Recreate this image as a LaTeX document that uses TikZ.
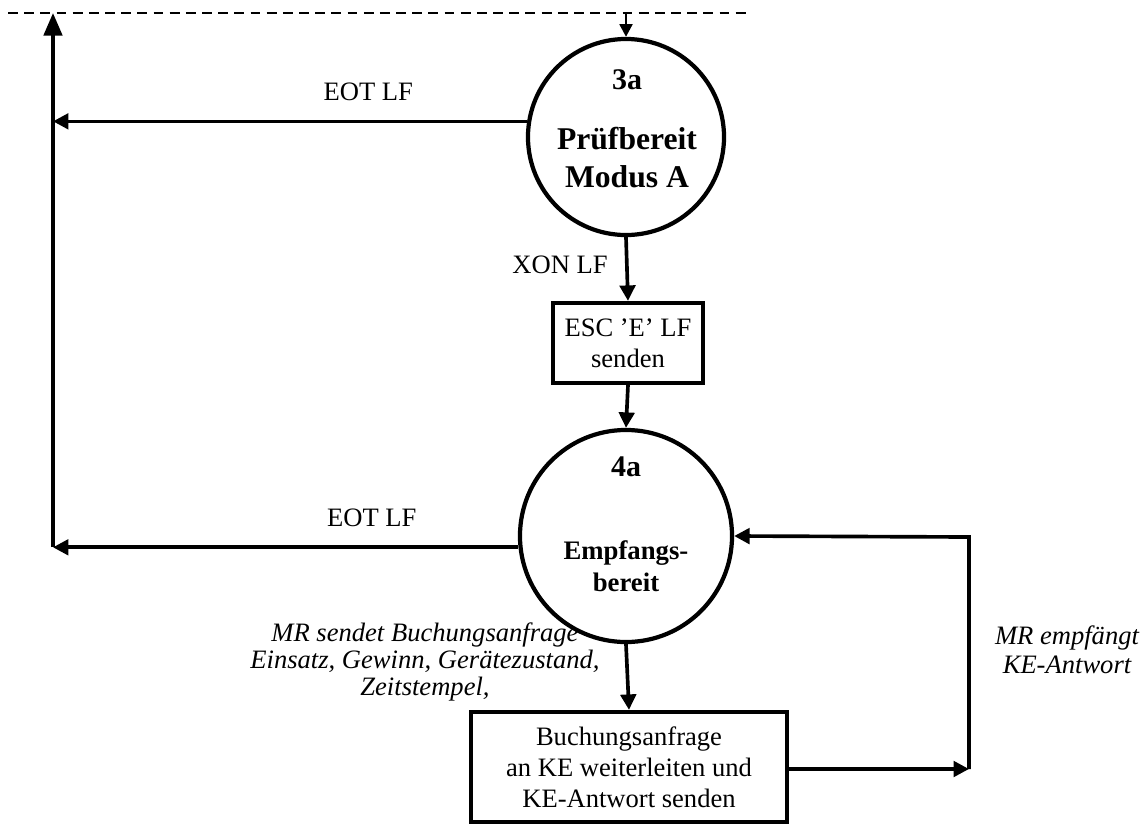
\documentclass[tikz,border=0pt]{standalone}
\usepackage{fontspec}
\setmainfont{Liberation Serif}
\usetikzlibrary{arrows.meta,positioning}

\begin{document}
\begin{tikzpicture}[x=0.025cm,y=-0.025cm,>={Triangle[length=11pt,width=11pt]},
  state/.style={draw,circle,line width=3pt,inner sep=0pt},
  stepbox/.style={draw,rectangle,line width=3pt,inner sep=0pt,align=center,
    font=\fontsize{18.9}{22}\selectfont},
  flow/.style={->,line width=2.6pt},
  txt/.style={inner sep=0pt,align=center,font=\fontsize{18.9}{21.5}\selectfont},
  snum/.style={inner sep=0pt,font=\fontsize{21.3}{25}\selectfont\bfseries}]
  \useasboundingbox (0,0) rectangle (1147,824);
  % states
  \node[state,minimum size=4.9cm] (s3a) at (626,137) {};
  \node[snum] (s3aNum) at (627,80) {3a};
  \node[inner sep=0pt,align=center,font=\fontsize{22.5}{27}\selectfont\bfseries]
    (s3aName) at (627,158) {Prüfbereit\\Modus A};
  \node[state,minimum size=5.3cm] (s4a) at (626,536) {};
  \node[snum] (s4aNum) at (626,467) {4a};
  \node[inner sep=0pt,align=center,font=\fontsize{19}{22.7}\selectfont\bfseries]
    (s4aName) at (626,566) {Empfangs-\\bereit};
  % boxes
  \node[stepbox,minimum width=3.75cm,minimum height=2cm] (escBox) at (628,343)
    {ESC 'E' LF\\senden};
  \node[stepbox,minimum width=7.9cm,minimum height=2.75cm] (reqBox) at (629,767)
    {Buchungsanfrage\\an KE weiterleiten und\\KE-Antwort senden};
  % free ends
  \coordinate (dashL) at (8,13);
  \coordinate (dashR) at (748,13);
  \coordinate (topL) at (53,13);
  \coordinate (botL) at (53,547);
  \coordinate (rightBot) at (969,769);
  \coordinate (rightTop) at (969,537);
  % connectors
  \draw[line width=1.8pt,dash pattern=on 7pt off 4.5pt] (dashL) -- (dashR);
  \draw[->,line width=2pt,>={Triangle[length=9pt,width=9pt]}] (s3a.north |- dashL) -- (s3a.north);
  \draw[->,line width=2.6pt,>={Triangle[length=16pt,width=13pt]}] (botL) -- (topL);
  \draw[flow] (s3a.171) -- (s3a.171 -| botL) node[txt,pos=0.335,above=13pt] (eotA) {EOT LF};
  \draw[flow] (s4a.186) -- (s4a.186 -| botL) node[txt,pos=0.315,above=13pt] (eotB) {EOT LF};
  \draw[flow] (s3a.south) -- (escBox.north);
  \node[txt] (xon) at (560,265) {XON LF};
  \draw[flow] (escBox.south) -- (s4a.north);
  \draw[flow] (s4a.south) -- (reqBox.north);
  \node[txt,font=\fontsize{18.9}{19.5}\selectfont\itshape] (sendLbl) at (425,662)
    {MR sendet Buchungsanfrage\\Einsatz, Gewinn, Gerätezustand,\\Zeitstempel,};
  \draw[flow] (reqBox.east |- rightBot) -- (rightBot);
  \draw[flow] (rightBot) -- (rightTop) -- (s4a.east);
  \node[txt,font=\fontsize{18.9}{20.5}\selectfont\itshape] (recvLbl) at (1067,650)
    {MR empfängt\\KE-Antwort};
\end{tikzpicture}
\end{document}
